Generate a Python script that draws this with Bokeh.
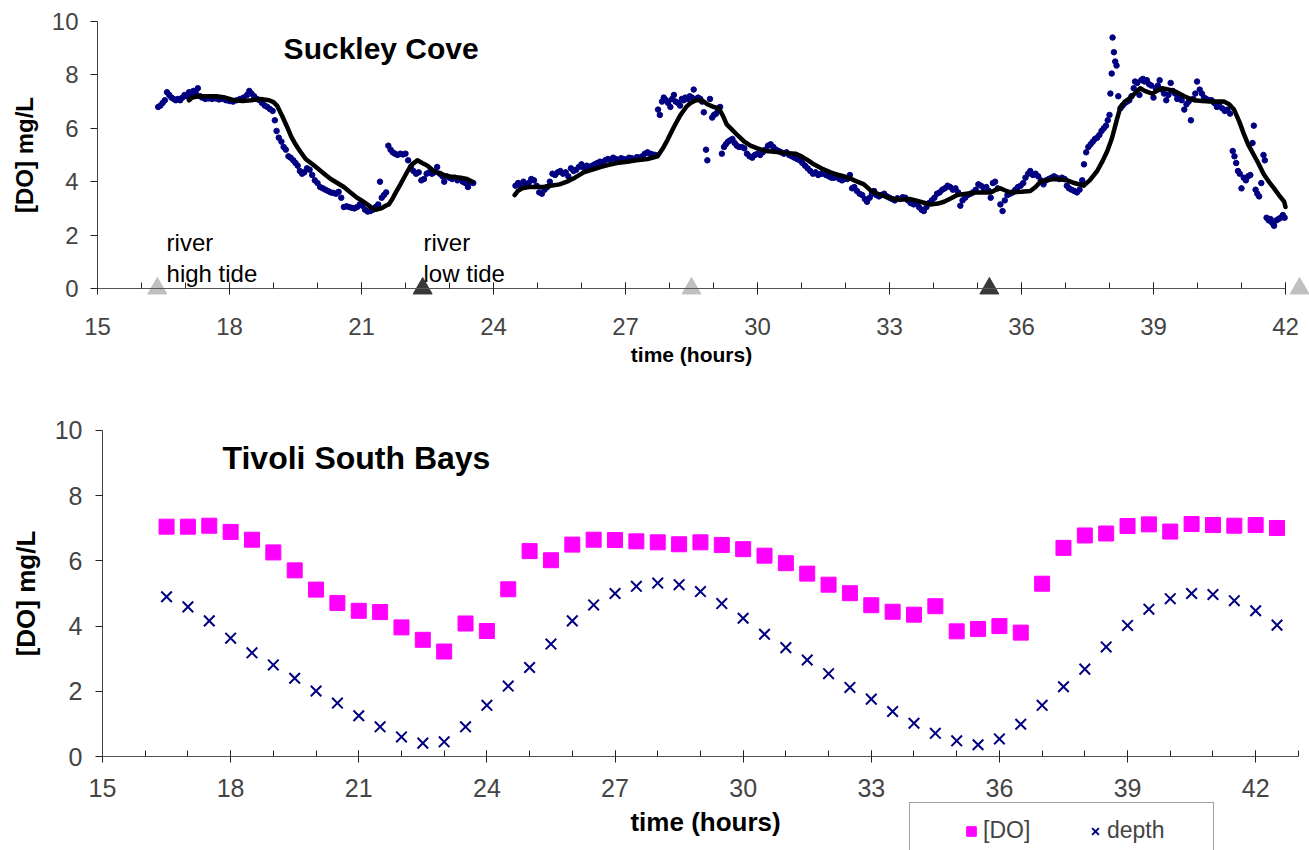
import math

from bokeh.plotting import figure
from bokeh.layouts import column
from bokeh.models import Range1d, LinearAxis, FixedTicker, Legend, LegendItem
from bokeh.embed import file_html
from bokeh.resources import INLINE
from bokeh.core.properties import value

FONT = "Liberation Sans"
NAVY = "#000080"
MAGENTA = "#FF00FF"

# ---------------- Suckley Cove: logger readings (time in hours, DO in mg/L)
sc_t = [
    16.38, 16.43, 16.48, 16.53, 16.58, 16.63, 16.68, 16.73, 16.78, 16.83, 16.88, 16.93, 16.98, 17.03,
    17.08, 17.13, 17.18, 17.23, 17.28, 17.33, 17.38, 17.45, 17.52, 17.60, 17.68, 17.76, 17.84, 17.92,
    18.00, 18.08, 18.16, 18.24, 18.32, 18.40, 18.45, 18.50, 18.56, 18.62, 18.68, 18.74, 18.80, 18.86,
    18.92, 18.98, 19.03, 19.07, 19.12, 19.18, 19.23, 19.28, 19.34, 19.39, 19.45, 19.50, 19.55, 19.60,
    19.65, 19.70, 19.76, 19.82, 19.88, 19.94, 20.00, 20.06, 20.12, 20.18, 20.24, 20.30, 20.36, 20.42,
    20.48, 20.54, 20.60, 20.66, 20.72, 20.78, 20.84, 20.90, 20.96, 21.02, 21.08, 21.14, 21.20, 21.26,
    21.32, 21.38, 21.42, 21.46, 21.51, 21.56, 21.61, 21.66, 21.71, 21.76, 21.82, 21.88, 21.94, 22.00,
    22.06, 22.12, 22.18, 22.24, 22.30, 22.36, 22.42, 22.48, 22.54, 22.60, 22.66, 22.72, 22.78, 22.84,
    22.88, 22.94, 23.00, 23.06, 23.12, 23.18, 23.24, 23.30, 23.36, 23.42, 23.48, 23.54,
    24.50, 24.56, 24.62, 24.68, 24.74, 24.80, 24.86, 24.92, 24.98, 25.04, 25.10, 25.16, 25.22, 25.28,
    25.34, 25.40, 25.46, 25.52, 25.58, 25.64, 25.70, 25.76, 25.82, 25.88, 25.94, 26.00, 26.06, 26.12,
    26.18, 26.24, 26.30, 26.36, 26.42, 26.48, 26.54, 26.60, 26.66, 26.72, 26.78, 26.84, 26.90, 26.96,
    27.02, 27.08, 27.14, 27.20, 27.26, 27.32, 27.38, 27.44, 27.50, 27.56, 27.62, 27.68, 27.74, 27.78,
    27.83, 27.87, 27.92, 27.97, 28.02, 28.06, 28.10, 28.14, 28.19, 28.24, 28.28, 28.32, 28.36, 28.41,
    28.46, 28.51, 28.55, 28.60, 28.65, 28.70, 28.74, 28.78, 28.83, 28.86, 28.92, 28.97, 29.01, 29.06,
    29.10, 29.15, 29.19, 29.24, 29.28, 29.33, 29.38, 29.43, 29.48, 29.53, 29.58, 29.64, 29.70, 29.76,
    29.82, 29.88, 29.94, 30.00, 30.06, 30.12, 30.18, 30.24, 30.30, 30.36, 30.42, 30.48, 30.54, 30.60,
    30.66, 30.72, 30.78, 30.84, 30.90, 30.96, 31.02, 31.08, 31.14, 31.20, 31.26, 31.32, 31.38, 31.44,
    31.50, 31.56, 31.62, 31.68, 31.74, 31.80, 31.86, 31.92, 31.98, 32.04, 32.10, 32.15, 32.20, 32.26,
    32.32, 32.38, 32.44, 32.49, 32.55, 32.60, 32.65, 32.70, 32.76, 32.82, 32.88, 32.94, 33.00, 33.06,
    33.12, 33.18, 33.24, 33.30, 33.36, 33.42, 33.48, 33.55, 33.61, 33.67, 33.73, 33.78, 33.84, 33.90,
    33.96, 34.02, 34.08, 34.14, 34.20, 34.26, 34.32, 34.38, 34.44, 34.50, 34.56, 34.61, 34.66, 34.72,
    34.78, 34.84, 34.90, 34.96, 35.02, 35.08, 35.14, 35.20, 35.26, 35.30, 35.35, 35.40, 35.46, 35.52,
    35.57, 35.62, 35.68, 35.74, 35.80, 35.86, 35.92, 35.98, 36.04, 36.09, 36.15, 36.20, 36.26, 36.32,
    36.38, 36.44, 36.50, 36.56, 36.62, 36.68, 36.74, 36.80, 36.86, 36.92, 36.98, 37.03, 37.08, 37.14,
    37.20, 37.26, 37.32, 37.38, 37.42, 37.47, 37.52, 37.57, 37.62, 37.67, 37.72, 37.77, 37.82, 37.87,
    37.92, 37.96, 38.00, 38.02, 38.05, 38.07, 38.10, 38.13, 38.16, 38.20, 38.25, 38.30, 38.35, 38.40,
    38.45, 38.50, 38.55, 38.58, 38.63, 38.68, 38.72, 38.76, 38.80, 38.85, 38.90, 38.95, 39.00, 39.05,
    39.10, 39.14, 39.19, 39.24, 39.29, 39.34, 39.39, 39.44, 39.49, 39.54, 39.59, 39.64, 39.70, 39.75,
    39.80, 39.85, 39.90, 39.95, 39.99, 40.05, 40.10, 40.15, 40.20, 40.26, 40.32, 40.38, 40.44, 40.50,
    40.56, 40.62, 40.68, 40.74, 40.80, 40.84, 40.88, 40.92, 40.96, 41.00, 41.05, 41.10, 41.15, 41.20,
    41.25, 41.28, 41.32, 41.36, 41.40, 41.45, 41.50, 41.53, 41.57, 41.62, 41.66, 41.70, 41.74, 41.79,
    41.84, 41.89, 41.94, 41.98,
]
sc_do = [
    6.80, 6.85, 6.95, 7.05, 7.35, 7.25, 7.15, 7.10, 7.05, 7.10, 7.05, 7.15, 7.25, 7.20,
    7.35, 7.30, 7.40, 7.35, 7.50, 7.20, 7.15, 7.10, 7.12, 7.10, 7.12, 7.08, 7.10, 7.05,
    7.02, 7.00, 7.05, 7.10, 7.15, 7.25, 7.40, 7.30, 7.20, 7.10, 7.05, 6.95, 6.85, 6.80,
    6.72, 6.65, 6.30, 5.90, 5.65, 5.50, 5.30, 5.20, 4.95, 4.90, 4.80, 4.70, 4.60, 4.40,
    4.30, 4.35, 4.50, 4.45, 4.25, 4.05, 3.95, 3.80, 3.75, 3.70, 3.65, 3.60, 3.58, 3.55,
    3.62, 3.40, 3.05, 3.08, 3.05, 3.02, 3.00, 3.05, 3.15, 3.10, 2.95, 2.88, 2.90, 2.95,
    3.05, 3.15, 4.00, 3.40, 3.50, 3.60, 5.35, 5.20, 5.10, 5.05, 5.00, 5.05, 5.02, 5.05,
    4.80, 4.55, 4.40, 4.30, 4.35, 4.05, 4.10, 4.30, 4.35, 4.30, 4.35, 4.55, 4.30, 4.20,
    4.00, 4.20, 4.15, 4.10, 4.15, 4.05, 4.10, 4.00, 3.95, 3.80, 3.98, 3.95,
    3.85, 3.95, 3.80, 4.00, 3.90, 3.95, 4.10, 4.05, 3.85, 3.60, 3.55, 3.70, 3.80, 4.00,
    4.30, 4.25, 4.35, 4.40, 4.30, 4.35, 4.20, 4.50, 4.40, 4.45, 4.55, 4.65, 4.50, 4.60,
    4.55, 4.60, 4.65, 4.70, 4.75, 4.72, 4.80, 4.85, 4.80, 4.90, 4.85, 4.80, 4.88, 4.85,
    4.82, 4.90, 4.88, 4.85, 4.92, 4.90, 4.95, 5.05, 5.10, 5.05, 5.02, 5.00, 6.70, 6.50,
    7.00, 7.15, 7.05, 6.95, 6.80, 7.10, 7.25, 7.00, 6.95, 6.85, 7.10, 7.05, 7.15, 7.10,
    7.20, 7.15, 7.45, 7.10, 7.15, 7.10, 7.00, 6.60, 5.20, 4.80, 7.10, 6.40, 6.50, 6.55,
    6.70, 6.80, 5.05, 5.30, 5.40, 5.50, 5.55, 5.60, 5.45, 5.35, 5.30, 5.30, 5.25, 5.05,
    4.95, 4.90, 5.00, 5.05, 5.00, 5.10, 5.20, 5.35, 5.40, 5.30, 5.20, 5.15, 5.10, 5.05,
    5.10, 5.00, 4.95, 4.90, 4.85, 4.80, 4.70, 4.60, 4.50, 4.40, 4.30, 4.35, 4.25, 4.30,
    4.30, 4.25, 4.20, 4.15, 4.15, 4.20, 4.10, 4.05, 4.10, 4.10, 4.25, 3.75, 3.80, 3.65,
    3.55, 3.50, 3.35, 3.25, 3.40, 3.55, 3.65, 3.50, 3.45, 3.50, 3.55, 3.45, 3.40, 3.35,
    3.30, 3.38, 3.35, 3.42, 3.40, 3.30, 3.20, 3.15, 3.20, 3.05, 2.95, 2.90, 3.05, 3.20,
    3.30, 3.40, 3.55, 3.60, 3.70, 3.75, 3.85, 3.80, 3.70, 3.75, 3.60, 3.10, 3.30, 3.40,
    3.50, 3.55, 3.60, 3.70, 3.90, 3.85, 3.75, 3.80, 3.65, 3.40, 3.95, 4.00, 3.75, 3.15,
    2.90, 3.30, 3.50, 3.55, 3.60, 3.70, 3.80, 3.85, 3.95, 4.15, 4.30, 4.40, 4.25, 4.30,
    4.20, 4.05, 3.90, 4.05, 4.10, 4.15, 4.20, 4.15, 4.10, 4.15, 4.10, 3.85, 3.75, 3.70,
    3.65, 3.60, 3.70, 4.05, 4.65, 5.10, 5.30, 5.40, 5.50, 5.60, 5.65, 5.75, 5.90, 6.00,
    6.10, 6.30, 6.50, 7.30, 8.05, 9.40, 8.85, 8.50, 8.35, 7.20, 6.75, 6.85, 6.95, 7.00,
    7.05, 7.20, 7.50, 7.75, 7.70, 7.25, 7.80, 7.85, 7.75, 7.80, 7.65, 7.60, 7.15, 7.50,
    7.60, 7.80, 7.45, 7.30, 7.05, 7.25, 7.70, 7.40, 7.30, 7.10, 7.20, 7.05, 6.70, 6.90,
    7.00, 6.30, 7.10, 7.30, 7.75, 7.45, 7.30, 7.15, 7.10, 7.05, 7.05, 6.95, 6.80, 6.95,
    6.75, 6.65, 6.70, 6.55, 5.15, 4.95, 4.70, 4.40, 4.30, 3.75, 4.15, 4.05, 4.20, 4.25,
    5.45, 6.10, 3.70, 3.55, 3.45, 3.95, 5.00, 4.80, 2.65, 2.55, 2.60, 2.45, 2.35, 2.55,
    2.60, 2.65, 2.75, 2.65,
]

# smoothed DO trend, one piece on each side of the logger gap
trend1_t = [17.08, 17.15, 17.30, 17.50, 17.70, 17.90, 18.10, 18.30, 18.50, 18.70, 18.90, 19.00,
            19.08, 19.20, 19.31, 19.40, 19.50, 19.60, 19.73, 19.85, 20.00, 20.15, 20.30, 20.45,
            20.60, 20.75, 20.90, 21.00, 21.13, 21.25, 21.32, 21.45, 21.55, 21.62, 21.70, 21.78,
            21.85, 21.95, 22.05, 22.15, 22.27, 22.38, 22.50, 22.64, 22.80, 22.95, 23.10, 23.25,
            23.40, 23.52]
trend1_do = [7.05, 7.15, 7.20, 7.20, 7.20, 7.15, 7.05, 7.02, 7.05, 7.10, 7.05, 6.98,
             6.85, 6.45, 6.05, 5.70, 5.40, 5.15, 4.85, 4.70, 4.50, 4.30, 4.10, 3.95,
             3.80, 3.60, 3.40, 3.30, 3.15, 3.00, 2.95, 3.00, 3.10, 3.15, 3.35, 3.60,
             3.80, 4.10, 4.40, 4.65, 4.80, 4.70, 4.60, 4.40, 4.30, 4.20, 4.18, 4.15,
             4.10, 4.00]
trend2_t = [24.48, 24.55, 24.65, 24.80, 25.00, 25.14, 25.30, 25.50, 25.67, 25.85, 26.05, 26.25,
            26.43, 26.60, 26.80, 27.04, 27.25, 27.50, 27.73, 27.85, 27.95, 28.10, 28.25, 28.38,
            28.48, 28.60, 28.70, 28.80, 28.86, 29.00, 29.12, 29.22, 29.30, 29.42, 29.54, 29.70,
            29.84, 30.00, 30.20, 30.50, 30.70, 30.86, 31.00, 31.15, 31.28, 31.45, 31.66, 31.85,
            32.07, 32.20, 32.42, 32.55, 32.72, 32.90, 33.10, 33.30, 33.48, 33.70, 33.93, 34.10,
            34.24, 34.40, 34.54, 34.75, 34.99, 35.15, 35.30, 35.42, 35.52, 35.62, 35.75, 36.00,
            36.20, 36.32, 36.43, 36.55, 36.73, 36.90, 37.04, 37.20, 37.41, 37.55, 37.72, 37.85,
            37.95, 38.05, 38.10, 38.18, 38.25, 38.35, 38.48, 38.60, 38.70, 38.80, 38.97, 39.10,
            39.20, 39.35, 39.53, 39.70, 39.92, 40.10, 40.30, 40.45, 40.60, 40.72, 40.83, 40.95,
            41.05, 41.15, 41.28, 41.38, 41.50, 41.60, 41.74, 41.85, 41.97, 42.00]
trend2_do = [3.50, 3.65, 3.75, 3.80, 3.80, 3.80, 3.85, 3.90, 4.00, 4.15, 4.35, 4.45,
             4.55, 4.62, 4.70, 4.75, 4.80, 4.85, 4.95, 5.25, 5.55, 6.05, 6.50, 6.80,
             6.95, 7.05, 7.05, 6.98, 6.90, 6.80, 6.75, 6.45, 6.15, 5.95, 5.75, 5.50,
             5.35, 5.25, 5.15, 5.10, 5.07, 5.05, 4.95, 4.80, 4.65, 4.50, 4.35, 4.25,
             4.15, 4.05, 3.90, 3.70, 3.55, 3.45, 3.35, 3.33, 3.35, 3.25, 3.15, 3.18,
             3.25, 3.38, 3.50, 3.55, 3.60, 3.60, 3.60, 3.70, 3.75, 3.68, 3.60, 3.62,
             3.65, 3.80, 4.00, 4.05, 4.10, 4.08, 4.05, 3.95, 3.85, 4.05, 4.40, 4.80,
             5.15, 5.60, 5.90, 6.40, 6.80, 7.00, 7.15, 7.35, 7.50, 7.40, 7.30, 7.42,
             7.50, 7.45, 7.35, 7.20, 7.05, 7.02, 7.00, 7.00, 7.00, 6.90, 6.70, 6.25,
             5.80, 5.40, 5.00, 4.70, 4.30, 4.05, 3.75, 3.50, 3.25, 3.05]

# river tide times (hours)
high_tide_t = [16.36, 28.50, 42.32]
low_tide_t = [22.39, 35.27]
tide_level = 0

# ---------------- Tivoli South Bays: half-hourly samples
tsb_t = [16.5, 17.0, 17.5, 18.0, 18.5, 19.0, 19.5, 20.0, 20.5, 21.0, 21.5, 22.0, 22.5, 23.0,
         23.5, 24.0, 24.5, 25.0, 25.5, 26.0, 26.5, 27.0, 27.5, 28.0, 28.5, 29.0, 29.5, 30.0,
         30.5, 31.0, 31.5, 32.0, 32.5, 33.0, 33.5, 34.0, 34.5, 35.0, 35.5, 36.0, 36.5, 37.0,
         37.5, 38.0, 38.5, 39.0, 39.5, 40.0, 40.5, 41.0, 41.5, 42.0, 42.5]
tsb_do = [7.05, 7.05, 7.08, 6.89, 6.65, 6.26, 5.71, 5.12, 4.71, 4.47, 4.43, 3.96, 3.58, 3.22,
          4.08, 3.85, 5.13, 6.30, 6.02, 6.50, 6.65, 6.64, 6.60, 6.57, 6.51, 6.57, 6.49, 6.36,
          6.16, 5.93, 5.61, 5.27, 5.01, 4.64, 4.44, 4.35, 4.61, 3.84, 3.91, 4.00, 3.80, 5.30,
          6.40, 6.78, 6.84, 7.07, 7.12, 6.90, 7.13, 7.10, 7.08, 7.10, 7.01]
tsb_depth = [4.90, 4.59, 4.16, 3.63, 3.18, 2.81, 2.40, 2.01, 1.64, 1.25, 0.91, 0.60, 0.41, 0.45,
             0.91, 1.57, 2.16, 2.73, 3.45, 4.16, 4.65, 5.00, 5.22, 5.32, 5.27, 5.06, 4.69, 4.24,
             3.75, 3.34, 2.96, 2.54, 2.12, 1.76, 1.38, 1.02, 0.71, 0.48, 0.36, 0.54, 0.99, 1.57,
             2.14, 2.68, 3.36, 4.02, 4.52, 4.84, 5.00, 4.97, 4.78, 4.47, 4.03]

y_ticks = [0, 2, 4, 6, 8, 10]
x_ticks = [15, 18, 21, 24, 27, 30, 33, 36, 39, 42]
hour_ticks = list(range(15, 44))


def add_y_axis(p, tick_size, standoff):
    # DO axis pinned at the start of the time axis
    ax = LinearAxis(fixed_location=15, bounds=(0, 10), ticker=FixedTicker(ticks=y_ticks))
    ax.major_label_text_font = FONT
    ax.major_label_text_font_size = tick_size
    ax.major_label_standoff = standoff
    ax.major_tick_in = 0
    ax.major_tick_out = 7
    ax.minor_tick_in = 0
    ax.minor_tick_out = 0
    ax.axis_line_color = "#444444"
    ax.major_tick_line_color = "#222222"
    p.add_layout(ax, "left")


def add_x_axis(p, last, tick_size, standoff):
    # time axis crosses the DO axis at zero
    minor = [h for h in hour_ticks if h <= last]
    ax = LinearAxis(fixed_location=0, bounds=(15, last),
                    ticker=FixedTicker(ticks=x_ticks, minor_ticks=minor))
    ax.major_label_text_font = FONT
    ax.major_label_text_font_size = tick_size
    ax.major_label_standoff = standoff
    ax.major_tick_in = 6
    ax.major_tick_out = 6
    ax.minor_tick_in = 6
    ax.minor_tick_out = 0
    ax.axis_line_color = "#555555"
    ax.major_tick_line_color = "#222222"
    ax.minor_tick_line_color = "#222222"
    p.add_layout(ax, "below")


def panel(x_range, y_range, height):
    p = figure(frame_width=1309, frame_height=height, x_range=x_range, y_range=y_range,
               x_axis_type=None, y_axis_type=None,
               min_border_left=0, min_border_right=0, min_border_top=0, min_border_bottom=0,
               output_backend="svg", toolbar_location=None)
    p.outline_line_color = None
    return p


# ---------------- top panel: Suckley Cove
p1 = panel(Range1d(12.7955, 42.5455), Range1d(-4.1948, 10.7865), 400)
add_y_axis(p1, "24px", 12)
add_x_axis(p1, 42, "24px", 24)

p1.scatter(sc_t, sc_do, marker="circle", size=5.5, color=NAVY)
p1.line(trend1_t, trend1_do, line_width=4.5, color="black", line_join="round", line_cap="round")
p1.line(trend2_t, trend2_do, line_width=4.5, color="black", line_join="round", line_cap="round")

p1.scatter(high_tide_t, [tide_level] * len(high_tide_t), marker="triangle", size=19, color="#C0C0C0")
p1.scatter(low_tide_t, [tide_level] * len(low_tide_t), marker="triangle", size=19, color="#383838")

p1.text(x=[19.23], y=[8.99], text=["Suckley Cove"], text_font=value(FONT),
        text_font_style="bold", text_font_size="30px", text_baseline="alphabetic")
p1.text(x=[16.57, 16.57, 22.41, 22.41], y=[1.72, 0.56, 1.72, 0.56],
        text=["river", "high tide", "river", "low tide"], text_font=value(FONT),
        text_font_size="24px", text_baseline="alphabetic")
p1.text(x=[28.5], y=[-2.47], text=["time (hours)"], text_font=value(FONT),
        text_font_style="bold", text_font_size="21px", text_align="center",
        text_baseline="middle")
p1.text(x=[13.33], y=[5], text=["[DO] mg/L"], angle=math.pi / 2, text_font=value(FONT),
        text_font_style="bold", text_font_size="24px", text_align="center",
        text_baseline="middle")

# ---------------- bottom panel: Tivoli South Bays
p2 = panel(Range1d(12.6118, 43.2604), Range1d(-2.8834, 10.9202), 450)
add_y_axis(p2, "25px", 13)
add_x_axis(p2, 43, "25px", 16)

r_do = p2.scatter(tsb_t, tsb_do, marker="square", size=15, color=MAGENTA)
r_depth = p2.scatter(tsb_t, tsb_depth, marker="x", size=15, line_color=NAVY, line_width=2)

p2.text(x=[17.81], y=[9.16], text=["Tivoli South Bays"], text_font=value(FONT),
        text_font_style="bold", text_font_size="32px", text_baseline="alphabetic")
p2.text(x=[29.12], y=[-2.02], text=["time (hours)"], text_font=value(FONT),
        text_font_style="bold", text_font_size="26px", text_align="center",
        text_baseline="middle")
p2.text(x=[13.2], y=[5], text=["[DO] mg/L"], angle=math.pi / 2, text_font=value(FONT),
        text_font_style="bold", text_font_size="26px", text_align="center",
        text_baseline="middle")

legend = Legend(items=[LegendItem(label="[DO]", renderers=[r_do]),
                       LegendItem(label="depth", renderers=[r_depth])],
                orientation="horizontal", location=(909, -9),
                padding=14, spacing=8, label_standoff=0, glyph_width=24, glyph_height=24,
                label_width=92, label_text_font=FONT, label_text_font_size="23px",
                border_line_color="#444444", border_line_width=1,
                background_fill_color="white", background_fill_alpha=1,
                title=" ", title_location="left", title_text_font_size="1px", title_standoff=34)
p2.add_layout(legend, "center")

layout = column(p1, p2)
open("out.html", "w").write(file_html(layout, INLINE))
